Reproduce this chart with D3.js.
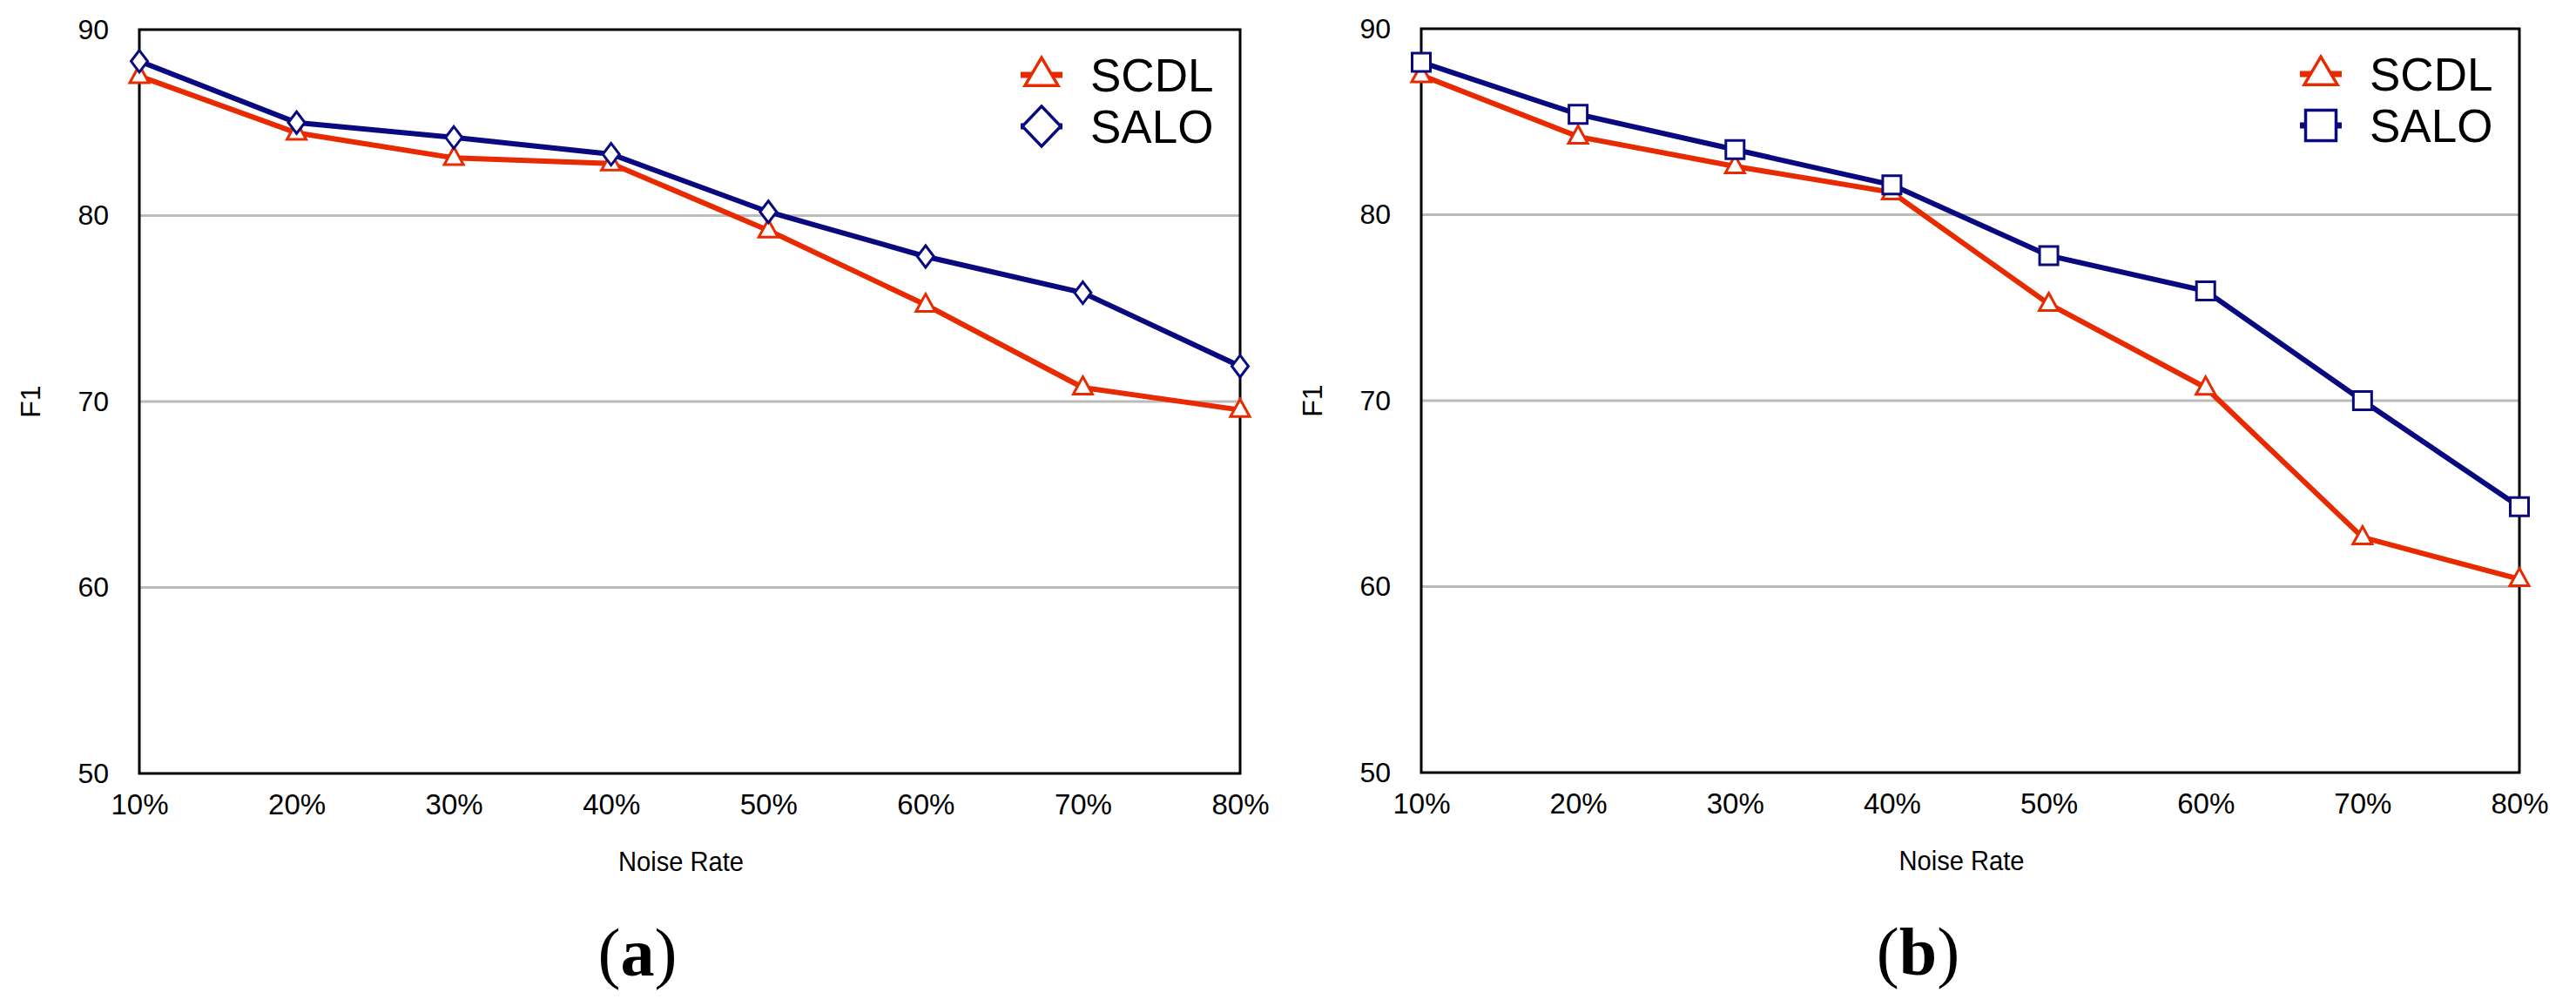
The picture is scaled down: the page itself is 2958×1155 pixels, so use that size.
<!DOCTYPE html>
<html>
<head>
<meta charset="utf-8">
<script src="https://cdn.jsdelivr.net/npm/d3@7"></script>
<style>
  html, body { margin: 0; padding: 0; background: #ffffff; }
  svg { display: block; }
  text { font-family: "Liberation Sans", Arial, Helvetica, sans-serif; fill: #000; }
</style>
</head>
<body>
<svg id="chart" width="2958" height="1155"></svg>
<script>
// ---- data ----
const categories = ["10%", "20%", "30%", "40%", "50%", "60%", "70%", "80%"];
const yTicks = [50, 60, 70, 80, 90];
const seriesNames = ["SCDL", "SALO"];
const scdlA = [87.5, 84.45, 83.1, 82.8, 79.2, 75.2, 70.75, 69.55];
const saloA = [88.3, 85.0, 84.2, 83.3, 80.2, 77.8, 75.85, 71.9];
const scdlB = [87.5, 84.2, 82.6, 81.2, 75.2, 70.7, 62.65, 60.4];
const saloB = [88.2, 85.4, 83.5, 81.6, 77.8, 75.9, 70.0, 64.3];
const panelLabels = ["(a)", "(b)"];
const xTitle = "Noise Rate";
const yTitle = "F1";

// ---- layout / style ----
const RED = "#e82a00";
const NAVY = "#0a0a80";
const panels = [
  { left: 160, right: 1424, top: 34, bottom: 888, scdl: scdlA, salo: saloA, saloShape: "diamond", label: panelLabels[0] },
  { left: 1632, right: 2893, top: 33, bottom: 887, scdl: scdlB, salo: saloB, saloShape: "square", label: panelLabels[1] }
];

const svg = d3.select("#chart");

function trianglePath(w, h) {
  return `M0,${-h * 0.62}L${w / 2},${h * 0.38}L${-w / 2},${h * 0.38}Z`;
}
function diamondPath(w, h) {
  return `M0,${-h / 2}L${w / 2},0L0,${h / 2}L${-w / 2},0Z`;
}
function squarePath(s) {
  return `M${-s / 2},${-s / 2}H${s / 2}V${s / 2}H${-s / 2}Z`;
}

panels.forEach(p => {
  const g = svg.append("g");
  const x = d3.scalePoint().domain(categories).range([p.left, p.right]);
  const y = d3.scaleLinear().domain([50, 90]).range([p.bottom, p.top]);

  // gridlines
  g.selectAll("line.grid")
    .data(yTicks.filter(t => t > 50 && t < 90))
    .join("line")
    .attr("x1", p.left).attr("x2", p.right)
    .attr("y1", d => y(d)).attr("y2", d => y(d))
    .attr("stroke", "#bbbbbb").attr("stroke-width", 3);

  // frame
  g.append("rect")
    .attr("x", p.left).attr("y", p.top)
    .attr("width", p.right - p.left).attr("height", p.bottom - p.top)
    .attr("fill", "none").attr("stroke", "#000").attr("stroke-width", 3);

  // y tick labels
  const yAxis = d3.axisLeft(y).tickValues(yTicks).tickSize(0).tickPadding(35);
  const ya = g.append("g").attr("transform", `translate(${p.left},0)`).call(yAxis);
  ya.select(".domain").remove();
  ya.selectAll("text").style("font-size", "32px").style("font-family", "'Liberation Sans', Arial, sans-serif").attr("fill", "#000");

  // x tick labels
  const xAxis = d3.axisBottom(x).tickSize(0).tickPadding(24);
  const xa = g.append("g").attr("transform", `translate(0,${p.bottom})`).call(xAxis);
  xa.select(".domain").remove();
  xa.selectAll("text").style("font-size", "33px").style("font-family", "'Liberation Sans', Arial, sans-serif").attr("fill", "#000");

  // axis titles
  g.append("text")
    .attr("x", (p.left + p.right) / 2 - 10).attr("y", p.bottom + 112)
    .attr("text-anchor", "middle").style("font-size", "32px")
    .attr("textLength", 144).attr("lengthAdjust", "spacingAndGlyphs")
    .text(xTitle);
  g.append("text")
    .attr("transform", `translate(${p.left - 114},${(p.top + p.bottom) / 2}) rotate(-90)`)
    .attr("text-anchor", "middle").style("font-size", "32px")
    .text(yTitle);

  // panel label
  g.append("text")
    .attr("x", (p.left + p.right) / 2 - 60).attr("y", p.bottom + 232)
    .attr("text-anchor", "middle")
    .style("font-family", "'Liberation Serif', 'DejaVu Serif', serif")
    .style("font-size", "78px")
    .text(p.label)
    .each(function() {
      const t = d3.select(this);
      const s = p.label;
      t.text("");
      t.append("tspan").text(s[0]).style("font-weight", "normal");
      t.append("tspan").text(s.slice(1, -1)).style("font-weight", "bold");
      t.append("tspan").text(s.slice(-1)).style("font-weight", "normal");
    });

  const line = d3.line().x((d, i) => x(categories[i])).y(d => y(d));

  // lines
  g.append("path").datum(p.scdl).attr("d", line)
    .attr("fill", "none").attr("stroke", RED).attr("stroke-width", 6).attr("stroke-linejoin", "miter");
  g.append("path").datum(p.salo).attr("d", line)
    .attr("fill", "none").attr("stroke", NAVY).attr("stroke-width", 6).attr("stroke-linejoin", "miter");

  // markers
  g.selectAll("path.tri").data(p.scdl).join("path")
    .attr("class", "tri")
    .attr("transform", (d, i) => `translate(${x(categories[i])},${y(d)})`)
    .attr("d", trianglePath(22, 20))
    .attr("fill", "#fff").attr("stroke", RED).attr("stroke-width", 3);
  g.selectAll("path.salo").data(p.salo).join("path")
    .attr("class", "salo")
    .attr("transform", (d, i) => `translate(${x(categories[i])},${y(d)})`)
    .attr("d", p.saloShape === "diamond" ? diamondPath(19, 25) : squarePath(21))
    .attr("fill", "#fff").attr("stroke", NAVY).attr("stroke-width", 3);

  // legend
  const lx = p.right - 228;
  const tx = p.right - 172;
  const rows = [
    { name: seriesNames[0], color: RED, base: p.top + 71 },
    { name: seriesNames[1], color: NAVY, base: p.top + 130 }
  ];
  rows.forEach((r, i) => {
    const my = r.base - 19;
    g.append("line")
      .attr("x1", lx - 24).attr("x2", lx + 24)
      .attr("y1", my).attr("y2", my)
      .attr("stroke", r.color).attr("stroke-width", 7);
    let d;
    if (i === 0) d = trianglePath(38, 32);
    else d = p.saloShape === "diamond" ? diamondPath(44, 46) : squarePath(35);
    g.append("path")
      .attr("transform", `translate(${lx},${my})`)
      .attr("d", d)
      .attr("fill", "#fff").attr("stroke", r.color).attr("stroke-width", 3.5);
    g.append("text")
      .attr("x", tx).attr("y", r.base)
      .style("font-size", "53px")
      .text(r.name);
  });
});
</script>
</body>
</html>
